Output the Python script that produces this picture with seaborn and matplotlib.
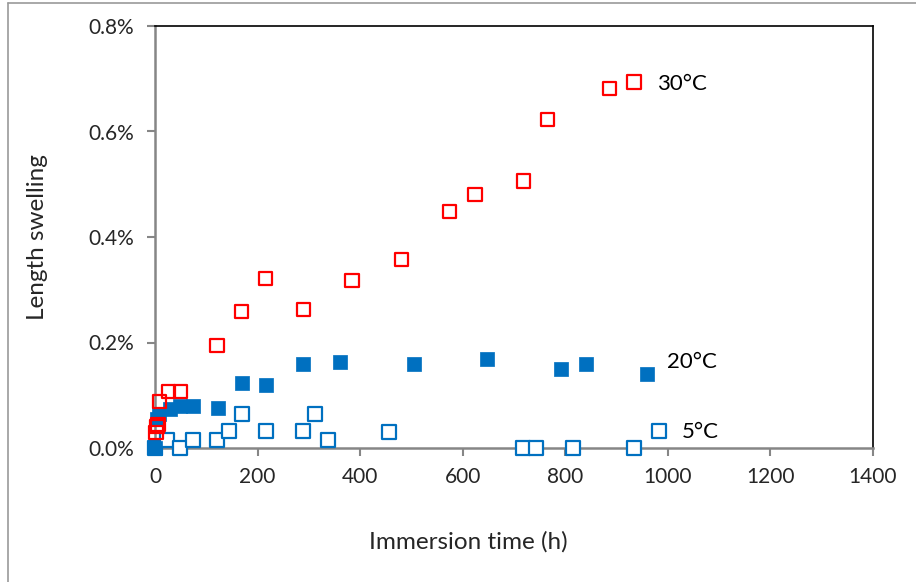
import matplotlib
matplotlib.use("Agg")
import matplotlib.pyplot as plt
from matplotlib.lines import Line2D
from matplotlib.ticker import FuncFormatter, MultipleLocator
import seaborn as sns
import pandas as pd

# Immersion time (h) and length swelling (%) for each bath temperature
t_30 = [2, 4, 6, 8, 26, 49, 121, 168, 216, 289, 384, 480, 575, 624, 719, 766, 887, 934]
s_30 = [0.030, 0.040, 0.045, 0.088, 0.107, 0.107, 0.195, 0.258, 0.322, 0.262,
        0.317, 0.358, 0.449, 0.480, 0.506, 0.622, 0.681, 0.694]

t_20 = [0, 3, 7, 29, 49, 74, 123, 170, 216, 289, 361, 505, 647, 792, 840, 959]
s_20 = [0.000, 0.055, 0.065, 0.074, 0.080, 0.080, 0.076, 0.123, 0.119, 0.159,
        0.163, 0.159, 0.169, 0.150, 0.159, 0.140]

t_5 = [0, 24, 49, 74, 121, 144, 170, 216, 289, 312, 337, 456, 717, 743, 815, 934, 983]
s_5 = [0.000, 0.016, 0.000, 0.016, 0.016, 0.032, 0.064, 0.032, 0.032, 0.064,
       0.016, 0.030, 0.000, 0.000, 0.000, 0.000, 0.032]

labels = ["30°C", "20°C", "5°C"]
label_pos = [(979, 0.690), (998, 0.163), (1027, 0.030)]

RED = "#FF0000"
BLUE = "#0070C0"
GRID_GREY = "#868686"

sns.set_theme(style="white")
plt.rcParams["font.family"] = ["Lato", "DejaVu Sans"]

fig = plt.figure(figsize=(9.16, 5.82), dpi=100)
ax = fig.add_axes([155 / 916, 1 - 448 / 582, (873 - 155) / 916, (448 - 26) / 582])

df30 = pd.DataFrame({"t": t_30, "s": s_30})
df20 = pd.DataFrame({"t": t_20, "s": s_20})
df5 = pd.DataFrame({"t": t_5, "s": s_5})

sns.scatterplot(data=df5, x="t", y="s", ax=ax, marker="s", s=90,
                facecolor="white", edgecolor=BLUE, linewidth=1.6, zorder=3,
                clip_on=False)
sns.scatterplot(data=df20, x="t", y="s", ax=ax, marker="s", s=100,
                color=BLUE, edgecolor=BLUE, linewidth=0.5, zorder=4,
                clip_on=False)
sns.scatterplot(data=df30, x="t", y="s", ax=ax, marker="s", s=90,
                facecolor="none", edgecolor=RED, linewidth=1.6, zorder=5,
                clip_on=False)

for txt, (x, y) in zip(labels, label_pos):
    ax.text(x, y, txt, fontsize=16, va="center", ha="left", color="black")

ax.set_xlim(0, 1400)
ax.set_ylim(0, 0.8)
ax.xaxis.set_major_locator(MultipleLocator(200))
ax.yaxis.set_major_locator(MultipleLocator(0.2))
ax.yaxis.set_major_formatter(FuncFormatter(lambda v, _: f"{v:.1f}%"))

ax.set_xlabel("Immersion time (h)", fontsize=17.5, va="center")
ax.set_ylabel("Length swelling", fontsize=17.5, va="center")
ax.xaxis.set_label_coords(313 / 718, -94 / 422)
ax.yaxis.set_label_coords(-117 / 718, 0.5)

ax.tick_params(axis="both", which="major", direction="out", length=6, width=1.5,
               color=GRID_GREY, labelsize=15, bottom=True, left=True)
ax.tick_params(axis="x", pad=8)
ax.tick_params(axis="y", pad=9)

for side in ("left", "bottom"):
    ax.spines[side].set_color(GRID_GREY)
    ax.spines[side].set_linewidth(1.8)
for side in ("top", "right"):
    ax.spines[side].set_color("black")
    ax.spines[side].set_linewidth(1.2)

# Chart-area frame along the top and left edges
fig.add_artist(Line2D([8 / 916, 1.0], [1 - 3 / 582, 1 - 3 / 582],
                      transform=fig.transFigure, color="#9a9a9a", lw=1.2))
fig.add_artist(Line2D([8 / 916, 8 / 916], [0.0, 1 - 3 / 582],
                      transform=fig.transFigure, color="#9a9a9a", lw=1.2))

fig.savefig("out.png", dpi=100, facecolor="white")
